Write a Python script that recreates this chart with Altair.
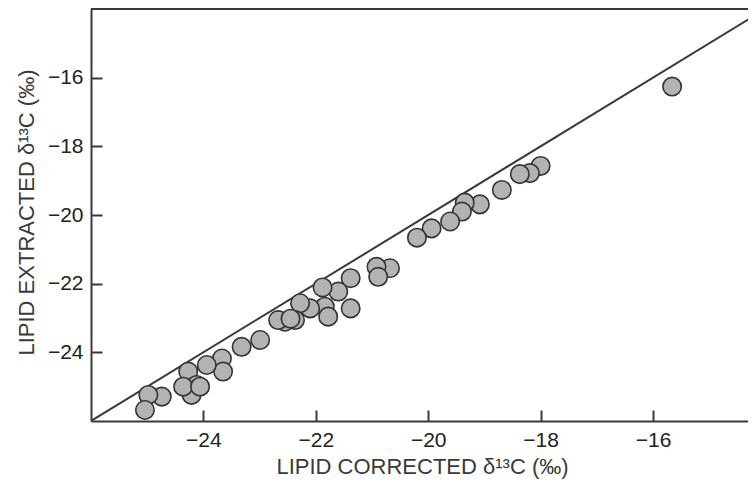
import altair as alt
import pandas as pd

# lipid corrected (x) vs lipid extracted (y) delta13C values
x_corr = [-15.66, -18.00, -18.19, -18.37, -18.69, -19.08, -19.35, -19.40, -19.61, -19.94,
          -20.20, -20.68, -20.92, -20.89, -21.38, -21.60, -21.88, -21.38, -21.84, -21.78,
          -22.10, -22.28, -22.37, -22.55, -22.67, -22.45, -22.99, -23.32, -23.67, -23.65,
          -23.94, -24.27, -24.12, -24.21, -24.36, -24.06, -24.74, -24.98, -25.04]
y_extr = [-16.26, -18.57, -18.78, -18.81, -19.27, -19.69, -19.64, -19.90, -20.19, -20.39,
          -20.66, -21.55, -21.51, -21.80, -21.84, -22.23, -22.11, -22.72, -22.67, -22.96,
          -22.72, -22.57, -23.06, -23.11, -23.06, -23.02, -23.64, -23.84, -24.18, -24.56,
          -24.37, -24.56, -24.95, -25.24, -25.00, -25.00, -25.29, -25.24, -25.68]

x_ticks = [-24, -22, -20, -18, -16]
y_ticks = [-24, -22, -20, -18, -16]
one_to_one = [-26, -14]

x_domain = [-26, -14.31]
y_domain = [-26, -14]

W, H = 657, 412
TICK = 11
FONT = "Liberation Sans"

pts = pd.DataFrame({"x": x_corr, "y": y_extr})
line_df = pd.DataFrame({"x": one_to_one, "y": one_to_one})
top_df = pd.DataFrame({"y": [float(y_domain[1])]})

xscale = alt.Scale(domain=x_domain, nice=False, zero=False)
yscale = alt.Scale(domain=y_domain, nice=False, zero=False)

# inward tick marks: grid lines dashed so only TICK px next to the axis line show
# (x grid runs top -> bottom, y grid runs left -> right)
x_axis = alt.Axis(values=x_ticks, ticks=False, tickSize=0,
                  grid=True, gridColor="#3a3a3a", gridWidth=2, gridOpacity=1,
                  gridDash=[0, H - TICK, TICK + 10, 3000],
                  domainColor="#3a3a3a", domainWidth=2,
                  labelFont=FONT, labelFontSize=21, labelColor="#222222", labelPadding=8,
                  titleFont=FONT, titleFontSize=22,
                  titleFontWeight="normal", titleColor="#3a3a3a",
                  titleX=331, titleY=45, titleBaseline="middle", titleAlign="center")
y_axis = alt.Axis(values=y_ticks, ticks=False, tickSize=0,
                  grid=True, gridColor="#3a3a3a", gridWidth=2, gridOpacity=1,
                  gridDash=[TICK, 3000],
                  domainColor="#3a3a3a", domainWidth=2,
                  labelFont=FONT, labelFontSize=21, labelColor="#222222", labelPadding=8,
                  titleFont=FONT, titleFontSize=22,
                  titleFontWeight="normal", titleColor="#3a3a3a",
                  titleX=-65, titleY=203, titleAngle=270, titleBaseline="middle",
                  titleAlign="center")

XT = "LIPID CORRECTED δ¹³C (‰)"
YT = "LIPID EXTRACTED δ¹³C (‰)"


def X(f="x"):
    return alt.X(f"{f}:Q", scale=xscale, axis=x_axis, title=XT)


def Y(f="y"):
    return alt.Y(f"{f}:Q", scale=yscale, axis=y_axis, title=YT)


line = alt.Chart(line_df).mark_line(clip=True, color="#3a3a3a", strokeWidth=2).encode(
    x=X(), y=Y())

top_border = alt.Chart(top_df).mark_rule(color="#3a3a3a", strokeWidth=2).encode(y=Y())

points = alt.Chart(pts).mark_point(filled=True, shape="circle", size=340,
                                   fill="#b3b3b3", fillOpacity=1, stroke="#333333",
                                   strokeWidth=1.6, opacity=1).encode(x=X(), y=Y())

chart = alt.layer(line, top_border, points).properties(
    width=W, height=H,
    autosize=alt.AutoSizeParams(type="none"),
    padding={"left": 83, "top": 1, "right": 0, "bottom": 59},
).configure_view(stroke=None).configure(background="white")

chart.save("out.html", embed_options={"renderer": "svg", "actions": False})
